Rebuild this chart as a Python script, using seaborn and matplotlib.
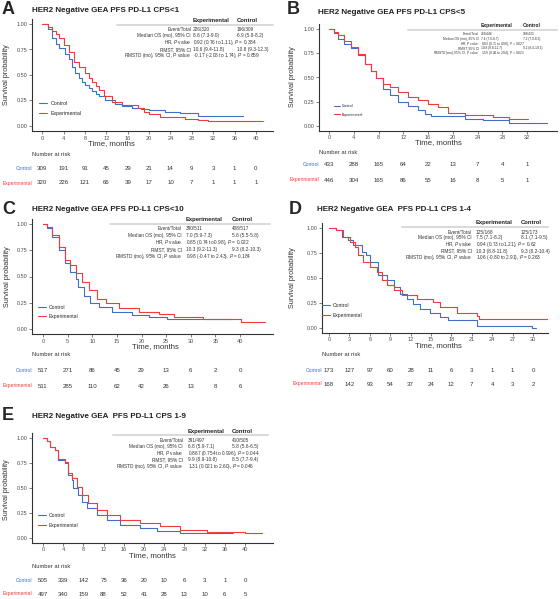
import numpy as np
import pandas as pd
import seaborn as sns
import matplotlib.pyplot as plt
from matplotlib.lines import Line2D
from matplotlib import transforms

sns.set_style('ticks')
plt.rcParams['font.family'] = ['Liberation Sans', 'DejaVu Sans']
plt.rcParams['mathtext.fontset'] = 'custom'
plt.rcParams['mathtext.rm'] = 'Liberation Sans'
plt.rcParams['mathtext.it'] = 'Liberation Sans:italic'

W, H = 560, 599
BLUE = '#3F6FC6'
RED = '#F23B3B'

# --- Data ---
titles = ['HER2 Negative GEA PFS PD-L1 CPS<1', 'HER2 Negative GEA PFS PD-L1 CPS<5',
          'HER2 Negative GEA PFS PD-L1 CPS<10', 'HER2 Negative GEA  PFS PD-L1 CPS 1-4',
          'HER2 Negative GEA  PFS PD-L1 CPS 1-9']
letters = ['A', 'B', 'C', 'D', 'E']

# Panel A
a_ctrl_t = [0, 1.0, 1.8, 2.5, 3.1, 4.3, 5.0, 5.6, 6.2, 6.8, 7.4, 8.05, 8.7, 9.3, 10.0, 10.6, 11.8, 13.7,
            15.0, 16.8, 18.5, 19.9, 23.0, 25.8, 29.2, 37.6]
a_ctrl_s = [1.0, 0.95, 0.86, 0.80, 0.76, 0.71, 0.66, 0.58, 0.52, 0.47, 0.43, 0.40, 0.37, 0.34, 0.31, 0.29,
            0.255, 0.22, 0.20, 0.18, 0.165, 0.155, 0.135, 0.125, 0.10, 0.10]
a_exp_t = [0, 1.0, 1.8, 2.5, 3.1, 4.0, 5.0, 5.9, 6.8, 8.05, 8.7, 9.3, 10.0, 10.6, 11.5, 13.05, 14.9, 18.0,
           19.0, 20.0, 22.0, 24.0, 26.7, 29.2, 31.1, 41.3]
a_exp_s = [1.0, 0.97, 0.93, 0.90, 0.86, 0.79, 0.73, 0.63, 0.58, 0.52, 0.47, 0.43, 0.39, 0.35, 0.29, 0.24,
           0.206, 0.173, 0.14, 0.118, 0.09, 0.085, 0.069, 0.06, 0.045, 0.045]
# Panel B
b_ctrl_t = [0, 0.8, 1.45, 2.5, 3.6, 4.7, 5.8, 6.8, 7.6, 8.7, 9.8, 11.1, 12.8, 14.4, 15.5, 16.5, 21.2,
            22.0, 24.9, 29.0, 35.2]
b_ctrl_s = [1.0, 0.96, 0.90, 0.85, 0.80, 0.73, 0.64, 0.57, 0.49, 0.385, 0.32, 0.25, 0.21, 0.17, 0.127,
            0.103, 0.10, 0.072, 0.062, 0.028, 0.028]
b_exp_t = [0, 0.8, 1.45, 2.5, 3.6, 4.7, 5.8, 6.8, 7.6, 8.7, 9.8, 11.1, 12.8, 14.4, 16.0, 17.6, 19.2,
           22.0, 26.5, 29.0, 32.2]
b_exp_s = [1.0, 0.97, 0.935, 0.88, 0.81, 0.745, 0.64, 0.57, 0.49, 0.436, 0.40, 0.35, 0.30, 0.265, 0.23,
           0.196, 0.137, 0.113, 0.09, 0.072, 0.072]
# Panel C
c_ctrl_t = [0, 0.8, 1.83, 3.2, 4.5, 5.5, 6.6, 7.2, 8.3, 9.6, 11.3, 14.0, 18.0, 21.5, 25.1, 38.6]
c_ctrl_s = [1.0, 0.96, 0.88, 0.75, 0.626, 0.546, 0.48, 0.40, 0.31, 0.245, 0.207, 0.165, 0.133, 0.11,
            0.092, 0.092]
c_exp_t = [0, 0.8, 1.83, 3.2, 4.5, 5.5, 6.6, 7.9, 9.3, 11.0, 12.7, 15.4, 19.4, 23.5, 26.5, 32.5, 40.3, 45.0]
c_exp_s = [1.0, 0.97, 0.90, 0.78, 0.66, 0.61, 0.53, 0.45, 0.37, 0.29, 0.245, 0.197, 0.165, 0.14, 0.11,
           0.092, 0.07, 0.07]
# Panel D
d_ctrl_t = [0, 1.1, 1.9, 2.8, 3.6, 4.8, 5.5, 6.0, 7.25, 8.5, 9.5, 10.4, 11.4, 12.4, 13.4, 14.9, 16.3,
            17.5, 21.7, 29.9, 30.4]
d_ctrl_s = [1.0, 0.98, 0.91, 0.88, 0.83, 0.76, 0.73, 0.66, 0.53, 0.48, 0.41, 0.34, 0.29, 0.24, 0.19,
            0.153, 0.11, 0.083, 0.025, 0.0, 0.0]
d_exp_t = [0, 1.1, 2.1, 3.1, 3.8, 4.3, 5.0, 6.0, 7.0, 7.75, 8.5, 9.5, 10.7, 12.9, 15.3, 16.3, 18.8,
           21.7, 22.1, 32.2]
d_exp_s = [1.0, 0.98, 0.91, 0.86, 0.81, 0.73, 0.66, 0.61, 0.56, 0.477, 0.427, 0.377, 0.327, 0.287,
           0.263, 0.21, 0.147, 0.12, 0.09, 0.09]
# Panel E
e_ctrl_t = [0, 0.7, 1.4, 2.4, 3.0, 4.35, 5.0, 5.7, 6.0, 7.0, 7.7, 8.65, 10.6, 12.6, 15.2, 19.2, 22.5,
            27.1, 37.7]
e_ctrl_s = [1.0, 0.97, 0.91, 0.88, 0.78, 0.75, 0.63, 0.58, 0.50, 0.43, 0.36, 0.30, 0.23, 0.18, 0.13,
            0.097, 0.07, 0.047, 0.047]
e_exp_t = [0, 0.7, 1.4, 2.4, 3.0, 4.35, 5.0, 5.7, 6.7, 7.7, 9.0, 10.6, 12.6, 15.2, 19.2, 23.2, 27.1,
           32.4, 40.0, 43.3]
e_exp_s = [1.0, 0.97, 0.91, 0.88, 0.79, 0.76, 0.65, 0.60, 0.513, 0.43, 0.347, 0.28, 0.23, 0.18, 0.147,
           0.123, 0.08, 0.063, 0.047, 0.047]

# Number at risk
a_ticks = list(range(0, 41, 4))
a_risk_ctrl = [309, 191, 91, 45, 29, 21, 14, 9, 3, 1, 0]
a_risk_exp = [320, 226, 121, 66, 39, 17, 10, 7, 1, 1, 1]
b_ticks = list(range(0, 33, 4))
b_risk_ctrl = [433, 288, 165, 64, 22, 13, 7, 4, 1]
b_risk_exp = [446, 304, 165, 86, 55, 16, 8, 5, 1]
c_ticks = list(range(0, 41, 5))
c_risk_ctrl = [517, 271, 86, 45, 29, 13, 6, 2, 0]
c_risk_exp = [511, 285, 110, 62, 42, 26, 13, 8, 6]
d_ticks = list(range(0, 31, 3))
d_risk_ctrl = [173, 127, 97, 60, 28, 11, 6, 3, 1, 1, 0]
d_risk_exp = [168, 142, 93, 54, 37, 24, 12, 7, 4, 3, 2]
e_ticks = list(range(0, 41, 4))
e_risk_ctrl = [505, 339, 142, 75, 36, 20, 10, 6, 3, 1, 0]
e_risk_exp = [497, 340, 159, 88, 52, 41, 28, 13, 10, 6, 5]

# Stats tables
row_labels = ['Event/Total', 'Median OS (mo), 95% CI', r'HR, $P$ value', 'RMST, 95% CI',
              r'RMSTD (mo), 95% CI, $P$ value']
a_exp_col = ['226/320', '8.6 (7.3-9.0)', r'0.92 (0.76 to 1.11), $P$ = 0.384', '10.6 (9.4-11.8)',
             r'-0.17 (-2.08 to 1.74), $P$ = 0.859']
a_ctrl_col = ['196/309', '6.9 (5.8-8.2)', '', '10.8 (9.3-12.3)', '']
b_exp_col = ['293/446', '7.4 (7.0-8.7)', r'0.83 (0.71 to 0.98), $P$ = 0.027', '10.8 (9.8-11.7)',
             r'1.59 (0.24 to 2.94), $P$ = 0.021']
b_ctrl_col = ['308/433', '7.2 (7.0-8.2)', '', '9.2 (8.4-10.1)', '']
c_exp_col = ['390/511', '7.0 (5.9-7.3)', r'0.85 (0.74 to 0.98), $P$ = 0.022', '10.3 (9.2-11.3)',
             r'0.98 (-0.47 to 2.43), $P$ = 0.184']
c_ctrl_col = ['408/517', '5.6 (5.5-5.8)', '', '9.3 (8.2-10.3)', '']
d_exp_col = ['125/168', '7.5 (7.1-8.2)', r'0.94 (0.73 to 1.21), $P$ = 0.62', '10.3 (8.8-11.8)',
             r'1.06 (-0.80 to 2.91), $P$ = 0.263']
d_ctrl_col = ['125/173', '8.1 (7.1-9.5)', '', '9.3 (8.2-10.4)', '']
e_exp_col = ['391/497', '6.8 (5.9-7.1)', r'0.867 (0.754 to 0.996), $P$ = 0.044', '9.9 (8.9-10.8)',
             r'1.31 (0.021 to 2.60), $P$ = 0.046']
e_ctrl_col = ['410/505', '5.8 (5.6-6.5)', '', '8.5 (7.7-9.4)', '']

curves = [(a_ctrl_t, a_ctrl_s, a_exp_t, a_exp_s), (b_ctrl_t, b_ctrl_s, b_exp_t, b_exp_s),
          (c_ctrl_t, c_ctrl_s, c_exp_t, c_exp_s), (d_ctrl_t, d_ctrl_s, d_exp_t, d_exp_s),
          (e_ctrl_t, e_ctrl_s, e_exp_t, e_exp_s)]
risks = [(a_ticks, a_risk_ctrl, a_risk_exp), (b_ticks, b_risk_ctrl, b_risk_exp),
         (c_ticks, c_risk_ctrl, c_risk_exp), (d_ticks, d_risk_ctrl, d_risk_exp),
         (e_ticks, e_risk_ctrl, e_risk_exp)]
tables = [(a_exp_col, a_ctrl_col), (b_exp_col, b_ctrl_col), (c_exp_col, c_ctrl_col),
          (d_exp_col, d_ctrl_col), (e_exp_col, e_ctrl_col)]

# --- Layout in pixels ---
layout = [
    dict(ax=(32, 273), y1=24, y0=126, x0=42.3, xk=5.34, letter=(2, 9), title=(32, 11),
         xlab=(111, 143.5), ylab=(7, 75), nar=154, rc=168, re=183, leg=(43, 107, 117, 3.8),
         tab=dict(lab=191, exp=193, ctrl=237, head=22, line=(117, 273, 24.5),
                  rows=[29.7, 35.7, 42.7, 49.3, 56], fs=3.4, hfs=4.2)),
    dict(ax=(319, 557), y1=29, y0=126, x0=329, xk=6.19, letter=(287, 10), title=(318, 12),
         xlab=(438, 143), ylab=(293, 77), nar=153, rc=165, re=180, leg=(338, 109, 117, 2.6),
         tab=dict(lab=479, exp=481, ctrl=523, head=27, line=(408, 557, 29.5),
                  rows=[34.2, 38.9, 43.5, 48.1, 52.7], fs=2.3, hfs=3.6)),
    dict(ax=(32, 273), y1=224, y0=329, x0=43, xk=4.925, letter=(2, 210), title=(32, 210),
         xlab=(155, 347), ylab=(8, 277), nar=355, rc=371, re=386, leg=(42, 310, 319, 3.6),
         tab=dict(lab=182, exp=186, ctrl=232, head=221, line=(110, 270, 223.5),
                  rows=[228.3, 235.7, 242.7, 249.3, 256], fs=3.4, hfs=4.2)),
    dict(ax=(322, 548), y1=228, y0=328, x0=329, xk=6.8, letter=(289, 210), title=(317, 210),
         xlab=(438, 346), ylab=(293, 278), nar=355, rc=370, re=384, leg=(326, 309, 319, 3.6),
         tab=dict(lab=472, exp=476, ctrl=521, head=224, line=(402, 548, 227),
                  rows=[232.3, 238, 244.3, 251, 257.7], fs=3.4, hfs=4.2)),
    dict(ax=(32, 273), y1=438, y0=538, x0=43, xk=5.05, letter=(2, 416), title=(32, 416),
         xlab=(152, 556), ylab=(7, 490), nar=566, rc=580, re=594, leg=(42, 519, 529, 3.6),
         tab=dict(lab=183, exp=188, ctrl=232, head=432.7, line=(113, 268, 435.3),
                  rows=[440.7, 446.7, 453.3, 460, 466.7], fs=3.4, hfs=4.2)),
]

fig = plt.figure(figsize=(W / 100, H / 100), dpi=100)
fig.patch.set_facecolor('white')


def fx(x):
    return x / W


def fy(y):
    return 1 - y / H


for i, L in enumerate(layout):
    l, r = L['ax']
    ppu = L['y0'] - L['y1']
    top = L['y1'] - 0.05 * ppu
    bot = L['y0'] + 0.05 * ppu
    ax = fig.add_axes([fx(l), fy(bot), (r - l) / W, (bot - top) / H])
    ax.set_xlim((l - L['x0']) / L['xk'], (r - L['x0']) / L['xk'])
    ax.set_ylim(-0.05, 1.05)

    ct, cs, et, es = curves[i]
    df = pd.concat([
        pd.DataFrame({'time': ct, 'surv': cs, 'arm': 'Control'}),
        pd.DataFrame({'time': et, 'surv': es, 'arm': 'Experimental'}),
    ])
    sns.lineplot(data=df, x='time', y='surv', hue='arm', palette={'Control': BLUE, 'Experimental': RED},
                 drawstyle='steps-post', estimator=None, linewidth=0.8, legend=False, ax=ax)

    ticks, rc, re = risks[i]
    ax.set_xticks(ticks)
    ax.set_yticks([0, 0.25, 0.5, 0.75, 1.0])
    ax.set_yticklabels(['0.00', '0.25', '0.50', '0.75', '1.00'])
    ax.tick_params(labelsize=4.0, colors='#4d4d4d', length=2, width=0.5, pad=1.2)
    ax.set_xlabel('')
    ax.set_ylabel('')
    for sp in ['top', 'right']:
        ax.spines[sp].set_visible(False)
    for sp in ['left', 'bottom']:
        ax.spines[sp].set_color('#333333')
        ax.spines[sp].set_linewidth(0.8)

    # labels
    fig.text(fx(L['letter'][0]), fy(L['letter'][1]), letters[i], fontsize=13, fontweight='bold',
             va='center', ha='left')
    fig.text(fx(L['title'][0]), fy(L['title'][1]), titles[i], fontsize=5.8, fontweight='bold',
             va='center', ha='left', color='#222222')
    fig.text(fx(L['xlab'][0]), fy(L['xlab'][1]), 'Time, months', fontsize=5.6, va='center', ha='center',
             color='#333333')
    fig.text(fx(L['ylab'][0]), fy(L['ylab'][1]), 'Survival probability', fontsize=5.2, rotation=90,
             va='center', ha='center', color='#333333')

    # legend
    lx, ly_c, ly_e, lfs = L['leg']
    handles = [Line2D([], [], color=BLUE, lw=0.8), Line2D([], [], color=RED, lw=0.8)]
    ax.legend(handles, ['Control', 'Experimental'], loc='upper left', frameon=False,
              bbox_to_anchor=(fx(lx - 4), fy(ly_c - (ly_e - ly_c) * 0.6)), bbox_transform=fig.transFigure,
              fontsize=lfs, handlelength=1.6, handletextpad=0.6, labelspacing=(ly_e - ly_c) / (lfs * 1.39) - 1.0,
              borderaxespad=0, borderpad=0)

    # stats table
    T = L['tab']
    exp_col, ctrl_col = tables[i]
    x0l, x1l, yl = T['line']
    fig.add_artist(Line2D([fx(x0l), fx(x1l)], [fy(yl), fy(yl)], color='#d9d9d9', lw=1.4,
                          transform=fig.transFigure))
    fig.text(fx(T['exp']), fy(T['head'] - 1.5), 'Experimental', fontsize=T['hfs'], fontweight='bold',
             va='center', ha='left', color='#222222')
    fig.text(fx(T['ctrl']), fy(T['head'] - 1.5), 'Control', fontsize=T['hfs'], fontweight='bold',
             va='center', ha='left', color='#222222')
    for k, y in enumerate(T['rows']):
        fig.text(fx(T['lab']), fy(y), row_labels[k], fontsize=T['fs'], va='center', ha='right',
                 color='#333333')
        fig.text(fx(T['exp']), fy(y), exp_col[k], fontsize=T['fs'], va='center', ha='left', color='#333333')
        if ctrl_col[k]:
            fig.text(fx(T['ctrl']), fy(y), ctrl_col[k], fontsize=T['fs'], va='center', ha='left',
                     color='#333333')

    # number at risk table
    trans = transforms.blended_transform_factory(ax.transData, fig.transFigure)
    fig.text(fx(l), fy(L['nar']), 'Number at risk', fontsize=4.2, va='center', ha='left', color='#333333')
    fig.text(fx(l), fy(L['rc']), 'Control', fontsize=3.6, va='center', ha='right', color=BLUE)
    fig.text(fx(l), fy(L['re']), 'Experimental', fontsize=3.6, va='center', ha='right', color=RED)
    for t, nc, ne in zip(ticks, rc, re):
        ax.text(t, fy(L['rc']), str(nc), transform=trans, fontsize=4.4, ha='center', va='center',
                color='#333333', clip_on=False)
        ax.text(t, fy(L['re']), str(ne), transform=trans, fontsize=4.4, ha='center', va='center',
                color='#333333', clip_on=False)

fig.savefig('out.png', dpi=100)
